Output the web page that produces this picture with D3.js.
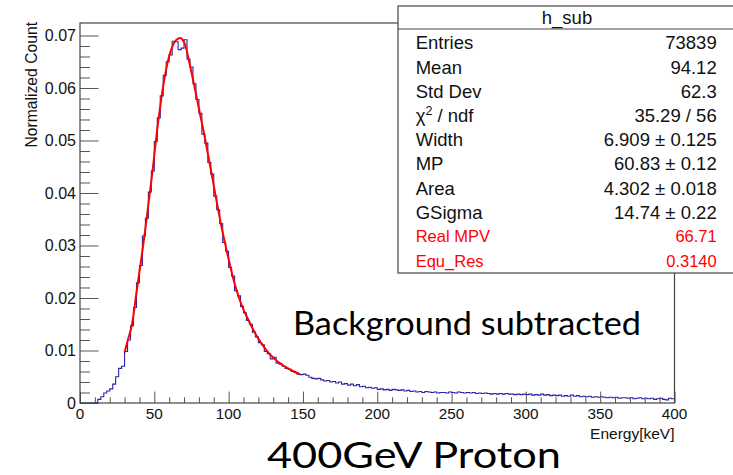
<!DOCTYPE html>
<html>
<head>
<meta charset="utf-8">
<script src="https://cdn.jsdelivr.net/npm/d3@7"></script>
<style>
  html, body { margin: 0; padding: 0; background: #fff; }
  svg { display: block; }
</style>
</head>
<body>
<svg id="chart" width="733" height="475"></svg>
<script>
// Energy deposit histogram (2 keV bins, 0-400 keV), normalized counts
const binLow = 0;
const binWidth = 2;
const counts = [
  0, 0, 0, 0, 0, 0.0001, 0.0007, 0.0012, 0.0019, 0.0023,
  0.0027, 0.0036, 0.0050, 0.0066, 0.0070, 0.0098, 0.0120, 0.0147, 0.0182, 0.0229,
  0.0262, 0.0318, 0.0352, 0.0402, 0.0442, 0.0498, 0.0543, 0.0585, 0.0624, 0.0650,
  0.0663, 0.0689, 0.0688, 0.0673, 0.0676, 0.0692, 0.0655, 0.0640, 0.0608, 0.0578,
  0.0552, 0.0512, 0.0495, 0.0458, 0.0436, 0.0394, 0.0368, 0.0342, 0.0306, 0.0289,
  0.0258, 0.0242, 0.0214, 0.0204, 0.0184, 0.0172, 0.0157, 0.0150, 0.0135, 0.0126,
  0.0115, 0.0111, 0.0098, 0.0094, 0.0084, 0.0087, 0.0076, 0.0074, 0.0070, 0.0066,
  0.0064, 0.0060, 0.0058, 0.0055, 0.0054, 0.0055, 0.0053, 0.0049, 0.0047, 0.0046,
  0.0047, 0.0044, 0.0042, 0.0043, 0.0040, 0.0041, 0.0038, 0.0040, 0.0036, 0.0037,
  0.0034, 0.0036, 0.0033, 0.0035, 0.0031, 0.0032, 0.0029, 0.0030, 0.0028, 0.0029,
  0.0026, 0.0027, 0.0025, 0.0026, 0.0024, 0.0026, 0.0025, 0.0024, 0.0025, 0.0023,
  0.0024, 0.0022, 0.0023, 0.0021, 0.0022, 0.0020, 0.0022, 0.0021, 0.0020, 0.0021,
  0.0019, 0.0020, 0.0020, 0.0019, 0.0021, 0.0020, 0.0019, 0.0021, 0.0020, 0.0019,
  0.0020, 0.0019, 0.0020, 0.0018, 0.0019, 0.0018, 0.0019, 0.0018, 0.0017, 0.0018,
  0.0017, 0.0018, 0.0017, 0.0018, 0.0017, 0.0017, 0.0016, 0.0017, 0.0016, 0.0017,
  0.0016, 0.0017, 0.0015, 0.0016, 0.0015, 0.0017, 0.0015, 0.0016, 0.0014, 0.0015,
  0.0014, 0.0015, 0.0013, 0.0014, 0.0013, 0.0015, 0.0013, 0.0014, 0.0012, 0.0013,
  0.0012, 0.0013, 0.0011, 0.0012, 0.0011, 0.0012, 0.0011, 0.0010, 0.0011, 0.0010,
  0.0011, 0.0009, 0.0010, 0.0010, 0.0009, 0.0010, 0.0008, 0.0009, 0.0010, 0.0008,
  0.0009, 0.0008, 0.0009, 0.0007, 0.0008, 0.0009, 0.0007, 0.0006, 0.0009, 0.0008
];

// Landau (x) Gaussian fit, sampled along the fitted range
const fitEnergy = [30, 32, 35, 38, 40, 42, 44, 46, 48, 50, 52, 54, 56, 58, 60, 62, 64, 66, 67.5,
  69, 71, 73, 75, 77, 79, 81, 83, 85, 87, 89, 91, 93, 95, 97, 99, 101, 103, 105, 107,
  110, 113, 116, 119, 122, 125, 128, 131, 134, 137, 140, 144, 148];
const fitValue = [0.0096, 0.0118, 0.0150, 0.0210, 0.0250, 0.0290, 0.0332, 0.0378, 0.0423, 0.0472,
  0.0522, 0.0565, 0.0604, 0.0636, 0.0661, 0.0678, 0.0689, 0.0694, 0.0695,
  0.0692, 0.0680, 0.0656, 0.0630, 0.0603, 0.0575, 0.0547, 0.0520, 0.0490, 0.0460, 0.0430,
  0.0398, 0.0368, 0.0338, 0.0312, 0.0286, 0.0262, 0.0238, 0.0218, 0.0200,
  0.0178, 0.0160, 0.0143, 0.0127, 0.0114, 0.0102, 0.0092, 0.0084, 0.0077, 0.0071, 0.0066, 0.0060, 0.0055];

// Axis ticks
const xMajorTicks = [0, 50, 100, 150, 200, 250, 300, 350, 400];
const yMajorTicks = [0, 0.01, 0.02, 0.03, 0.04, 0.05, 0.06, 0.07];
const yTickLabels = ["0", "0.01", "0.02", "0.03", "0.04", "0.05", "0.06", "0.07"];

// Statistics box
const statsTitle = "h_sub";
const statsNames = ["Entries", "Mean", "Std Dev", "χ2 / ndf", "Width", "MP", "Area", "GSigma"];
const statsValues = ["73839", "94.12", "62.3", "35.29 / 56", "6.909 ± 0.125", "60.83 ± 0.12", "4.302 ± 0.018", "14.74 ± 0.22"];
const extraNames = ["Real MPV", "Equ_Res"];
const extraValues = ["66.71", "0.3140"];

const svg = d3.select("#chart");
const frame = { left: 80, right: 674.5, top: 23, bottom: 403 };
const xMax = 400;
const yMax = 0.07238;

const x = d3.scaleLinear().domain([0, xMax]).range([frame.left, frame.right]);
const y = d3.scaleLinear().domain([0, yMax]).range([frame.bottom, frame.top]);

const helv = "'Liberation Sans', Arial, Helvetica, sans-serif";

// ---- histogram (step outline) ----
const histPts = counts.map((v, i) => [binLow + i * binWidth, v]);
histPts.push([binLow + counts.length * binWidth, counts[counts.length - 1]]);
const stepLine = d3.line().x(d => x(d[0])).y(d => y(d[1])).curve(d3.curveStepAfter);
svg.append("path")
  .attr("d", stepLine(histPts))
  .attr("fill", "none")
  .attr("stroke", "#2626a6")
  .attr("stroke-width", 1.1);

// ---- fit function ----
const fitLine = d3.line().x(d => x(d[0])).y(d => y(d[1])).curve(d3.curveMonotoneX);
svg.append("path")
  .attr("d", fitLine(fitEnergy.map((e, i) => [e, fitValue[i]])))
  .attr("fill", "none")
  .attr("stroke", "#ff0000")
  .attr("stroke-width", 2);

// ---- axes ----
const xAxis = d3.axisBottom(x)
  .tickValues(d3.range(0, xMax + 0.001, 10))
  .tickSize(0)
  .tickFormat("");
const gx = svg.append("g").attr("transform", `translate(0,${frame.bottom})`).call(xAxis);
gx.select(".domain").remove();
gx.selectAll(".tick line")
  .attr("y2", d => (Math.round(d) % 50 === 0 ? -11.4 : -5.7))
  .attr("stroke", "#555");
svg.append("g").selectAll("text")
  .data(xMajorTicks).join("text")
  .attr("x", d => x(d)).attr("y", frame.bottom + 15.5)
  .attr("text-anchor", "middle")
  .attr("font-family", helv).attr("font-size", 15.3)
  .attr("fill", "#111")
  .text(d => d);

const yAxis = d3.axisLeft(y)
  .tickValues(d3.range(0, 36).map(i => i * 0.002))
  .tickSize(0)
  .tickFormat("");
const gy = svg.append("g").attr("transform", `translate(${frame.left},0)`).call(yAxis);
gy.select(".domain").remove();
gy.selectAll(".tick line")
  .attr("x2", d => (Math.round(d * 1000) % 10 === 0 ? 18.5 : 10))
  .attr("stroke", "#555");
svg.append("g").selectAll("text")
  .data(yMajorTicks).join("text")
  .attr("x", frame.left - 4).attr("y", d => y(d) + 5.8)
  .attr("text-anchor", "end")
  .attr("font-family", helv).attr("font-size", 16)
  .attr("fill", "#111")
  .text((d, i) => yTickLabels[i]);

// frame
svg.append("rect")
  .attr("x", frame.left).attr("y", frame.top)
  .attr("width", frame.right - frame.left).attr("height", frame.bottom - frame.top)
  .attr("fill", "none").attr("stroke", "#444").attr("stroke-width", 1.2);

// axis titles
svg.append("text")
  .attr("transform", `translate(36.5,${frame.top - 1}) rotate(-90)`)
  .attr("text-anchor", "end")
  .attr("font-family", helv).attr("font-size", 15.7)
  .attr("fill", "#111")
  .text("Normalized Count");
svg.append("text")
  .attr("x", frame.right).attr("y", 439)
  .attr("text-anchor", "end")
  .attr("font-family", helv).attr("font-size", 15.5)
  .attr("fill", "#111")
  .text("Energy[keV]");

// ---- statistics box ----
const box = { left: 398, top: 6, right: 740, title: 29, bottom: 273 };
const sb = svg.append("g");
sb.append("rect")
  .attr("x", box.left).attr("y", box.top)
  .attr("width", box.right - box.left).attr("height", box.bottom - box.top)
  .attr("fill", "#fff").attr("stroke", "#444").attr("stroke-width", 1.2);
sb.append("line")
  .attr("x1", box.left).attr("x2", box.right)
  .attr("y1", box.title).attr("y2", box.title)
  .attr("stroke", "#444").attr("stroke-width", 1.2);
sb.append("text")
  .attr("x", 567).attr("y", 24)
  .attr("text-anchor", "middle")
  .attr("font-family", helv).attr("font-size", 18.5).attr("fill", "#111")
  .text(statsTitle);

const rowY = i => 49.3 + i * 24.2;
statsNames.forEach((name, i) => {
  const t = sb.append("text")
    .attr("x", 415.7).attr("y", rowY(i))
    .attr("font-family", helv).attr("font-size", 18.5).attr("fill", "#111");
  if (name.startsWith("χ2")) {
    t.append("tspan").text("χ");
    t.append("tspan").attr("dy", -7).attr("font-size", 12.5).text("2");
    t.append("tspan").attr("dy", 7).text(" / ndf");
  } else {
    t.text(name);
  }
  sb.append("text")
    .attr("x", 716.7).attr("y", rowY(i))
    .attr("text-anchor", "end")
    .attr("font-family", helv).attr("font-size", 18.5).attr("fill", "#111")
    .text(statsValues[i]);
});
extraNames.forEach((name, i) => {
  const yy = rowY(statsNames.length + i) - 0.5;
  sb.append("text")
    .attr("x", 415.7).attr("y", yy)
    .attr("font-family", helv).attr("font-size", 16.5).attr("fill", "#ff0000")
    .text(name);
  sb.append("text")
    .attr("x", 716.7).attr("y", yy)
    .attr("text-anchor", "end")
    .attr("font-family", helv).attr("font-size", 16.5).attr("fill", "#ff0000")
    .text(extraValues[i]);
});

// ---- annotations ----
svg.append("text")
  .attr("x", 293).attr("y", 335)
  .attr("font-family", "Lato, 'Open Sans', sans-serif").attr("font-size", 32)
  .attr("fill", "#000")
  .attr("textLength", 348).attr("lengthAdjust", "spacingAndGlyphs")
  .text("Background subtracted");
svg.append("text")
  .attr("x", 267).attr("y", 467.5)
  .attr("font-family", "Lato, 'Open Sans', sans-serif").attr("font-size", 36.5)
  .attr("fill", "#000")
  .attr("textLength", 294).attr("lengthAdjust", "spacingAndGlyphs")
  .text("400GeV Proton");
</script>
</body>
</html>
